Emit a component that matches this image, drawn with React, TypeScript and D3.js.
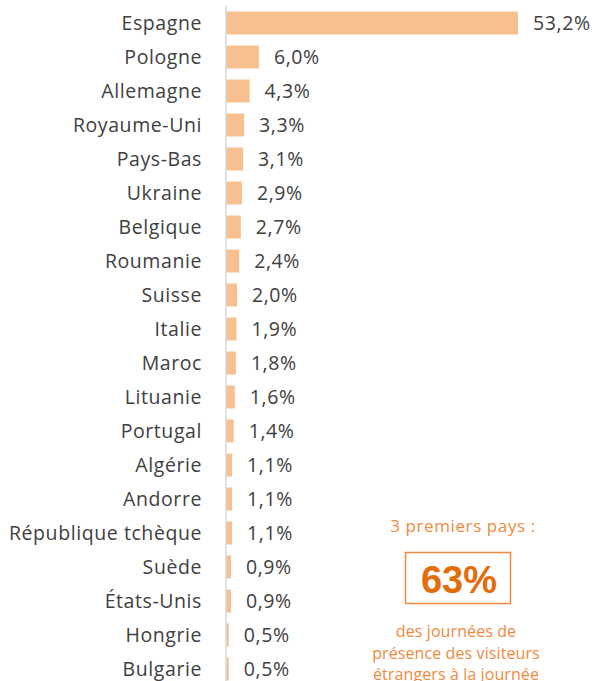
import React from "react";
import * as d3 from "d3";

const countries = [
  "Espagne", "Pologne", "Allemagne", "Royaume-Uni", "Pays-Bas", "Ukraine", "Belgique",
  "Roumanie", "Suisse", "Italie", "Maroc", "Lituanie", "Portugal", "Algérie", "Andorre",
  "République tchèque", "Suède", "États-Unis", "Hongrie", "Bulgarie",
];
const shares = [53.2, 6.0, 4.3, 3.3, 3.1, 2.9, 2.7, 2.4, 2.0, 1.9, 1.8, 1.6, 1.4, 1.1, 1.1, 1.1, 0.9, 0.9, 0.5, 0.5];
const calloutTitle = "3 premiers pays :";
const calloutValue = "63%";
const calloutLines = ["des journées de", "présence des visiteurs", "étrangers à la journée"];

const W = 595;
const H = 681;
const FONT = "'Open Sans', Lato, sans-serif";

export default function App() {
  const y = d3.scaleBand<string>().domain(countries).range([6, 6 + 34 * countries.length]).paddingInner(0.324).paddingOuter(0.162);
  const x = d3.scaleLinear().domain([0, 53.2]).range([226, 518]);
  const fmt = (v: number) => v.toFixed(1).replace(".", ",") + "%";
  const orange = "#EE8A3E";
  return (
    <svg width={W} height={H} style={{ position: "absolute", left: 0, top: 0, background: "#fff" }}>
      {countries.map((c, i) => {
        const yy = y(c)!;
        const cy = yy + y.bandwidth() / 2;
        return (
          <g key={c}>
            <rect x={x(0)} y={yy} width={x(shares[i]) - x(0)} height={y.bandwidth()} fill="#F9C08F" />
            <text x={202} y={cy} dy="0.36em" textAnchor="end" fontFamily={FONT} fontSize={19.5} fill="#404040" letterSpacing="0.58">{c}</text>
            <text x={x(shares[i]) + 15} y={cy} dy="0.36em" fontFamily={FONT} fontSize={19.5} fill="#404040" letterSpacing="0.6">{fmt(shares[i])}</text>
          </g>
        );
      })}
      <line x1={226} x2={226} y1={6} y2={H} stroke="#D9D9D9" strokeWidth={1.5} />
      <text x={463} y={532} textAnchor="middle" fontFamily={FONT} fontSize={17} fill={orange} letterSpacing="0.6">{calloutTitle}</text>
      <rect x={405.5} y={552.5} width={105} height={51} fill="none" stroke={orange} strokeWidth={1.5} />
      <text x={459} y={593} textAnchor="middle" fontFamily="'Liberation Sans', Arial, sans-serif" fontWeight="bold" fontSize={38} fill="#E46C0A">{calloutValue}</text>
      {calloutLines.map((l, i) => (
        <text key={l} x={456} y={637 + i * 21.5} textAnchor="middle" fontFamily={FONT} fontSize={16} fill={orange} letterSpacing="0.1">{l}</text>
      ))}
    </svg>
  );
}
